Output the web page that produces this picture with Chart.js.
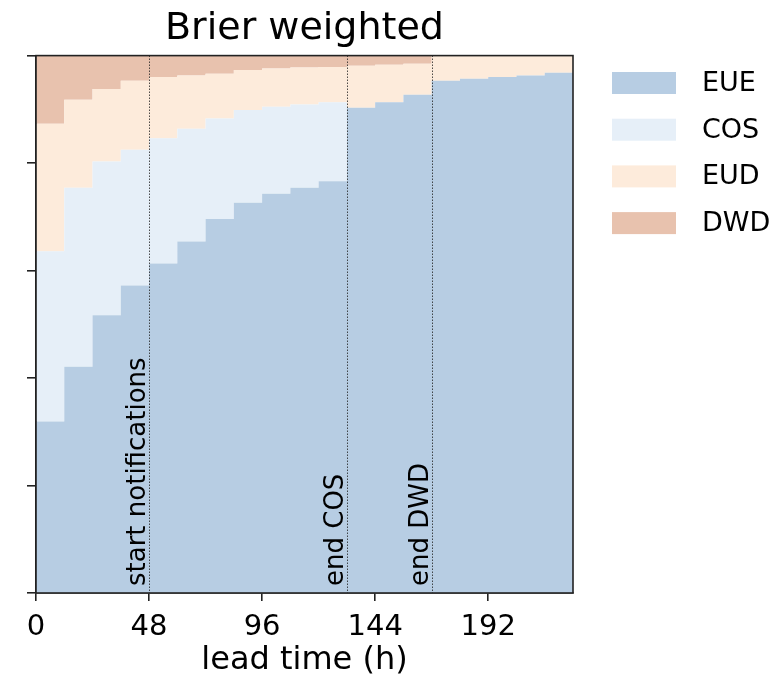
<!DOCTYPE html>
<html>
<head>
<meta charset="utf-8">
<script src="https://cdn.jsdelivr.net/npm/chart.js@4"></script>
<style>
  body { margin: 0; background: #fff; }
  #wrap { width: 782px; height: 684px; }
</style>
</head>
<body>
<div id="wrap"><canvas id="chart" width="782" height="684"></canvas></div>
<script>
// step starts (h); each step lasts 12 h, the last one ends at xEnd
var leadTimes = [0,12,24,36,48,60,72,84,96,108,120,132,144,156,168,180,192,204,216]
var xEnd = 228
var xTicks = [0,48,96,144,192]

// weight fractions per step
var eue = [0.319,0.421,0.517,0.572,0.613,0.654,0.696,0.726,0.743,0.754,0.766,0.903,0.913,0.927,0.953,0.957,0.960,0.963,0.968]
var cos = [0.317,0.333,0.286,0.253,0.233,0.210,0.187,0.173,0.162,0.155,0.147,0,0,0,0,0,0,0,0]
var eud = [0.237,0.164,0.135,0.128,0.114,0.099,0.083,0.074,0.071,0.069,0.066,0.078,0.070,0.058,0.047,0.043,0.040,0.037,0.032]
var dwd = [0.127,0.082,0.062,0.047,0.040,0.037,0.034,0.027,0.024,0.022,0.021,0.019,0.017,0.015,0,0,0,0,0]

var seriesNames = ['EUE','COS','EUD','DWD']
var seriesColors = ['#b7cde3','#e6eff8','#fdebdb','#e8c2ae']

var eventTimes = [48,132,168]
var eventLabels = ['start notifications','end COS','end DWD']

var FONT = "'DejaVu Sans', sans-serif"

function toPoints(vals){
    var pts = leadTimes.map(function(t,i){ return {x:t, y:vals[i]} })
    pts.push({x:xEnd, y:vals[vals.length-1]})
    return pts
}

var allSeries = [eue,cos,eud,dwd]
var datasets = allSeries.map(function(vals,i){
    return {
        label: seriesNames[i],
        data: toPoints(vals),
        stepped: 'before', // value holds until the next point
        borderWidth: 0,
        pointRadius: 0,
        backgroundColor: seriesColors[i],
        borderColor: seriesColors[i],
        fill: i === 0 ? 'origin' : '-1'
    }
})

// dotted event lines, rotated labels, frame and legend
var extras = {
    id: 'extras',
    afterDatasetsDraw: function(chart){
        var c = chart.ctx, a = chart.chartArea, xs = chart.scales.x
        c.save()
        c.strokeStyle = '#222'
        c.lineWidth = 1
        c.setLineDash([1.2,1.8])
        eventTimes.forEach(function(t,i){
            var px = Math.round(xs.getPixelForValue(t)) + 0.5
            c.beginPath()
            c.moveTo(px, a.top)
            c.lineTo(px, a.bottom)
            c.stroke()
            c.save()
            c.translate(px - 4.5, a.bottom - 7)
            c.rotate(-Math.PI/2)
            c.setLineDash([])
            c.fillStyle = '#000'
            c.font = '26px ' + FONT
            c.textAlign = 'left'
            c.textBaseline = 'alphabetic'
            c.fillText(eventLabels[i], 0, 0)
            c.restore()
        })
        c.setLineDash([])
        c.lineWidth = 1.6
        c.strokeRect(a.left, a.top, a.right - a.left, a.bottom - a.top)

        // legend
        c.font = '27px ' + FONT
        c.textBaseline = 'middle'
        c.textAlign = 'left'
        seriesNames.forEach(function(name,i){
            var y = 72 + i*46.7
            c.fillStyle = seriesColors[i]
            c.fillRect(612, y, 64, 22)
            c.fillStyle = '#000'
            c.fillText(name, 702, y + 12)
        })
        c.restore()
    }
}

var ctx = document.getElementById('chart')

var grafico = new Chart(ctx,{
    type:'line',
    data:{ datasets: datasets },
    options:{
        responsive:false,
        animation:false,
        devicePixelRatio:1,
        layout:{ padding:{ top:0, right:209, bottom:0, left:0 } },
        plugins:{
            legend:{ display:false },
            tooltip:{ enabled:false },
            title:{
                display:true,
                text:'Brier weighted',
                fullSize:false,
                color:'#000',
                font:{ family:FONT, size:38, weight:'normal' },
                padding:{ top:6, bottom:4 }
            }
        },
        scales:{
            x:{
                type:'linear',
                min:0,
                max:xEnd,
                afterBuildTicks:function(s){ s.ticks = xTicks.map(function(v){ return {value:v} }) },
                afterFit:function(s){ s.height = 91 },
                ticks:{ color:'#000', font:{ family:FONT, size:29 }, padding:9, maxRotation:0, autoSkip:false },
                grid:{ drawOnChartArea:false, drawTicks:true, tickLength:8, color:'#222', lineWidth:1.6 },
                border:{ display:true, color:'#222', width:1.6 },
                title:{ display:true, text:'lead time (h)', color:'#000', font:{ family:FONT, size:32 }, padding:{ top:0, bottom:4 } }
            },
            y:{
                stacked:true,
                min:0,
                max:1,
                afterFit:function(s){ s.width = 36 },
                ticks:{ stepSize:0.2, callback:function(){ return '' } },
                grid:{ drawOnChartArea:false, drawTicks:true, tickLength:9, color:'#222', lineWidth:1.6 },
                border:{ display:true, color:'#222', width:1.6 }
            }
        }
    },
    plugins:[extras]
})
</script>
</body>
</html>
